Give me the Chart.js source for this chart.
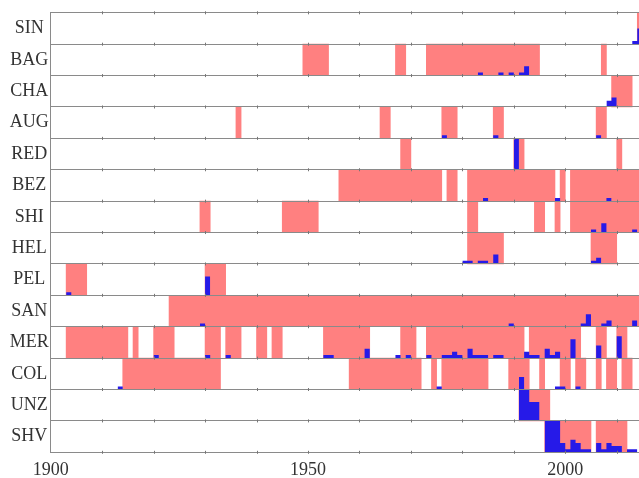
<!DOCTYPE html>
<html>
<head>
<meta charset="utf-8">
<script src="https://cdn.jsdelivr.net/npm/chart.js@4.4.0/dist/chart.umd.min.js"></script>
<style>
html,body{margin:0;padding:0;background:#fff;overflow:hidden;}
canvas{display:block;}
</style>
</head>
<body>
<canvas id="c" width="639" height="478"></canvas>
<script>
// ---- data ----
const rowNames = ["SIN","BAG","CHA","AUG","RED","BEZ","SHI","HEL","PEL","SAN","MER","COL","UNZ","SHV"];
const xMin = 1900;
const xMax = 2014.33;
const xTickYears = [1900, 1950, 2000];
const decadeMarks = [1910,1920,1930,1940,1950,1960,1970,1980,1990,2000,2010];
const countsPerRow = 10; // count that fills one row height

// shaded periods [start, end] per row
const SIN_spans = [[2014,2015]];
const BAG_spans = [[1949,1954],[1967,1969],[1973,1995],[2007,2008]];
const CHA_spans = [[2009,2013]];
const AUG_spans = [[1936,1937],[1964,1966],[1976,1979],[1986,1988],[2006,2008]];
const RED_spans = [[1968,1970],[1990,1992],[2010,2011]];
const BEZ_spans = [[1956,1976],[1977,1979],[1981,1998],[1999,2000],[2001,2015]];
const SHI_spans = [[1929,1931],[1945,1952],[1981,1983],[1994,1996],[1998,1999],[2001,2015]];
const HEL_spans = [[1981,1988],[2005,2010]];
const PEL_spans = [[1903,1907],[1930,1934]];
const SAN_spans = [[1923,2015]];
const MER_spans = [[1903,1915],[1916,1917],[1920,1924],[1930,1933],[1934,1937],[1940,1942],[1943,1945],[1953,1962],[1968,1971],[1973,1992],[1993,2003],[2006,2008],[2010,2012]];
const COL_spans = [[1914,1933],[1958,1972],[1974,1975],[1976,1985],[1989,1993],[1995,1996],[1999,2001],[2002,2004],[2006,2007],[2008,2010],[2011,2013]];
const UNZ_spans = [[1991,1997]];
const SHV_spans = [[1996,2005],[2006,2012]];

// yearly counts [year, count] per row
const SIN_counts = [[2013,1],[2014,5]];
const BAG_counts = [[1983,1],[1987,1],[1989,1],[1991,1],[1992,3]];
const CHA_counts = [[2008,2],[2009,3]];
const AUG_counts = [[1976,1],[1986,1],[2006,1]];
const RED_counts = [[1990,10]];
const BEZ_counts = [[1984,1],[1998,1],[2008,1]];
const SHI_counts = [[2005,1],[2007,3],[2013,1]];
const HEL_counts = [[1980,1],[1981,1],[1983,1],[1984,1],[1986,3],[2005,1],[2006,2]];
const PEL_counts = [[1903,1],[1930,6]];
const SAN_counts = [[1929,1],[1989,1],[2003,1],[2004,4],[2007,1],[2008,2],[2013,2]];
const MER_counts = [[1920,1],[1930,1],[1934,1],[1953,1],[1954,1],[1961,3],[1967,1],[1969,1],[1973,1],[1976,1],[1977,1],[1978,2],[1979,1],[1981,3],[1982,1],[1983,1],[1984,1],[1986,1],[1987,1],[1992,2],[1993,1],[1994,1],[1996,3],[1997,1],[1998,2],[2001,6],[2006,4],[2010,7]];
const COL_counts = [[1913,1],[1975,1],[1998,1],[1999,1],[2002,1]];
const UNZ_counts = [[1991,14],[1992,10],[1993,6],[1994,6]];
const SHV_counts = [[1996,10],[1997,10],[1998,10],[1999,3],[2000,1],[2001,4],[2002,3],[2003,1],[2004,1],[2006,3],[2007,1],[2008,3],[2009,2],[2010,2],[2012,1],[2013,1]];

const spanRows = [SIN_spans,BAG_spans,CHA_spans,AUG_spans,RED_spans,BEZ_spans,SHI_spans,HEL_spans,PEL_spans,SAN_spans,MER_spans,COL_spans,UNZ_spans,SHV_spans];
const countRows = [SIN_counts,BAG_counts,CHA_counts,AUG_counts,RED_counts,BEZ_counts,SHI_counts,HEL_counts,PEL_counts,SAN_counts,MER_counts,COL_counts,UNZ_counts,SHV_counts];

// ---- style ----
const PINK = 'rgb(255,128,128)';
const BLUE = 'rgb(38,26,232)';
const GRID = '#8a8a8a';
const FONT = {family: '"Liberation Serif","Times New Roman",serif', size: 18};

// ---- build datasets ----
const pinkData = [];
spanRows.forEach((spans, i) => spans.forEach(([a, b]) => pinkData.push({x: [a, b], y: i + 0.5})));

function stepPoints(bins, base) {
  const pts = [];
  bins.forEach(([yr, c], k) => {
    pts.push({x: yr, y: base - c / countsPerRow});
    const next = bins[k + 1];
    if (!next || next[0] !== yr + 1) pts.push({x: yr + 1, y: base});
  });
  return pts;
}

const blueSets = countRows.map((bins, i) => ({
  type: 'line',
  data: stepPoints(bins, i + 1),
  stepped: 'before',
  borderWidth: 0,
  borderColor: 'rgba(0,0,0,0)',
  backgroundColor: BLUE,
  pointRadius: 0,
  fill: {value: i + 1},
  order: 0
}));

const pinkSet = {
  type: 'bar',
  indexAxis: 'y',
  data: pinkData,
  backgroundColor: PINK,
  borderWidth: 0,
  barPercentage: 1,
  categoryPercentage: 1,
  order: 1
};

const markPlugin = {
  id: 'decadeMarks',
  afterDraw(chart) {
    const {x, y} = chart.scales;
    const ctx = chart.ctx;
    ctx.save();
    ctx.strokeStyle = '#777';
    ctx.lineWidth = 1;
    for (let r = 0; r <= rowNames.length; r++) {
      const py = y.getPixelForValue(r);
      decadeMarks.forEach(d => {
        const px = Math.round(x.getPixelForValue(d)) + 0.5;
        ctx.beginPath();
        ctx.moveTo(px, py - 1.5);
        ctx.lineTo(px, py + 1.5);
        ctx.stroke();
      });
    }
    ctx.restore();
  }
};

new Chart(document.getElementById('c'), {
  type: 'bar',
  data: {datasets: [...blueSets, pinkSet]},
  options: {
    responsive: false,
    animation: false,
    devicePixelRatio: 1,
    layout: {padding: {top: 12.3, left: 0, right: 0, bottom: 0}},
    plugins: {legend: {display: false}, tooltip: {enabled: false}},
    scales: {
      x: {
        type: 'linear', min: xMin, max: xMax, position: 'bottom', offset: false,
        grid: {display: false, drawTicks: false, offset: false},
        border: {display: true, color: GRID, z: 1},
        ticks: {padding: 7, color: '#333', font: FONT, maxRotation: 0, autoSkip: false,
                callback: v => String(v)},
        afterBuildTicks: s => { s.ticks = xTickYears.map(v => ({value: v})); },
        afterFit: s => { s.height = 25.7; }
      },
      y: {
        type: 'linear', min: 0, max: rowNames.length, reverse: true, offset: false,
        grid: {offset: true, drawTicks: false, color: GRID, lineWidth: 1, z: 1},
        border: {display: true, color: GRID, z: 1},
        ticks: {padding: 2, crossAlign: 'center', color: '#333', font: FONT, autoSkip: false,
                callback: v => rowNames[Math.floor(v)]},
        afterBuildTicks: s => { s.ticks = rowNames.map((n, i) => ({value: i + 0.5})); },
        afterFit: s => { s.width = 50.7; }
      }
    }
  },
  plugins: [markPlugin]
});
</script>
</body>
</html>
